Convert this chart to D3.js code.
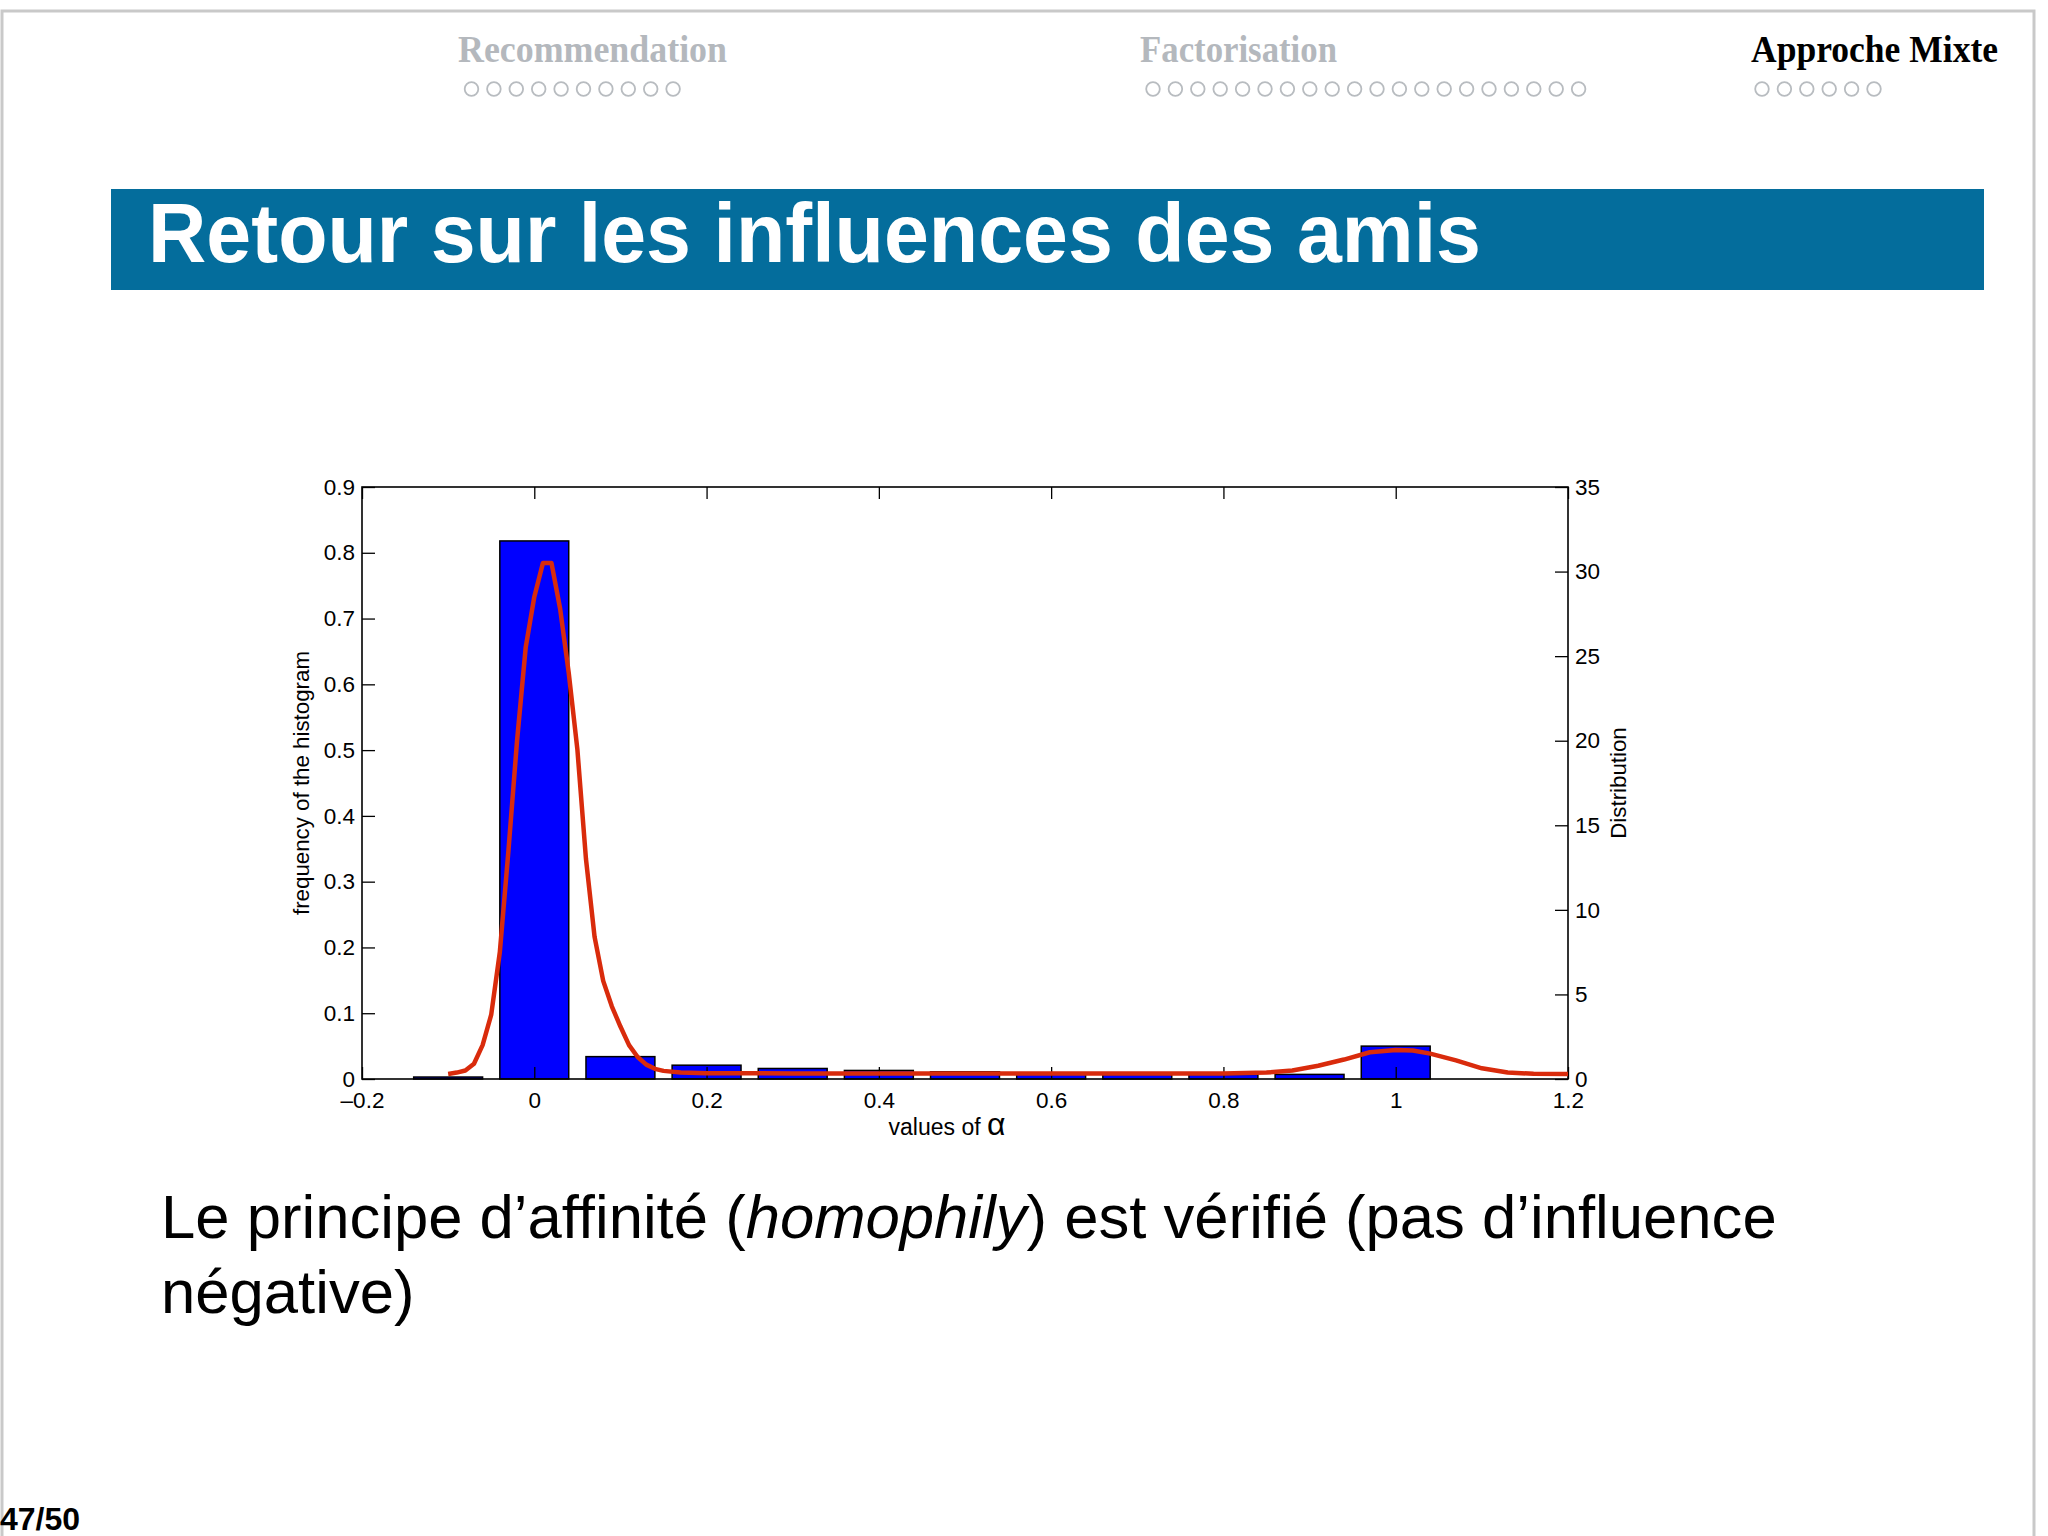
<!DOCTYPE html>
<html>
<head>
<meta charset="utf-8">
<script src="https://cdn.jsdelivr.net/npm/d3@7"></script>
<style>
  html, body { margin: 0; padding: 0; background: #ffffff; }
  svg { display: block; font-family: "Liberation Sans", Arial, Helvetica, sans-serif; }
</style>
</head>
<body>
<svg id="slide" width="2048" height="1536"></svg>
<script>
// ---------- DATA ----------
const sections = ["Recommendation", "Factorisation", "Approche Mixte"];
const sectionFrames = [10, 20, 6];
const activeSection = "Approche Mixte";

const titleText = "Retour sur les influences des amis";

const binCenters = [-0.1, 0.0, 0.1, 0.2, 0.3, 0.4, 0.5, 0.6, 0.7, 0.8, 0.9, 1.0];
const binFrequencies = [0.003, 0.818, 0.034, 0.021, 0.016, 0.013, 0.011, 0.008, 0.007, 0.007, 0.007, 0.050];
const binWidth = 0.08;

const curveX = [-0.10,-0.09,-0.08,-0.07,-0.06,-0.05,-0.04,-0.03,-0.02,-0.01,0.00,0.01,0.02,0.03,0.04,0.05,0.06,0.07,0.08,0.09,0.10,0.11,0.12,0.13,0.14,0.15,0.17,0.20,0.30,0.40,0.50,0.60,0.70,0.80,0.85,0.88,0.91,0.94,0.97,1.00,1.02,1.04,1.07,1.10,1.13,1.16,1.20];
const curveDensity = [0.30,0.38,0.50,0.90,2.0,3.8,7.5,13.5,20.0,25.5,28.5,30.5,30.5,27.8,24.0,19.5,13.0,8.4,5.8,4.3,3.1,2.0,1.3,0.85,0.6,0.48,0.38,0.34,0.33,0.33,0.33,0.33,0.32,0.33,0.38,0.5,0.78,1.15,1.58,1.72,1.68,1.5,1.1,0.63,0.38,0.31,0.30];

const xTicks = [-0.2, 0, 0.2, 0.4, 0.6, 0.8, 1, 1.2];
const xTickLabels = ["\u20130.2", "0", "0.2", "0.4", "0.6", "0.8", "1", "1.2"];
const yLeftTicks = [0, 0.1, 0.2, 0.3, 0.4, 0.5, 0.6, 0.7, 0.8, 0.9];
const yLeftTickLabels = ["0", "0.1", "0.2", "0.3", "0.4", "0.5", "0.6", "0.7", "0.8", "0.9"];
const yRightTicks = [0, 5, 10, 15, 20, 25, 30, 35];
const yRightTickLabels = ["0", "5", "10", "15", "20", "25", "30", "35"];

const xLabel = "values of ";
const xLabelSymbol = "\u03B1";
const yLeftLabel = "frequency of the histogram";
const yRightLabel = "Distribution";

const bodyLine1 = ["Le principe d\u2019affinit\u00e9 (", "homophily", ") est v\u00e9rifi\u00e9 (pas d\u2019influence"];
const bodyLine2 = "n\u00e9gative)";
const pageLabel = "47/50";

// ---------- DRAW ----------
const svg = d3.select("#slide");

// slide frame
svg.append("rect").attr("x", 2).attr("y", 11).attr("width", 2032).attr("height", 1540)
  .attr("fill", "#ffffff").attr("stroke", "#c9c9c9").attr("stroke-width", 3);

// navigation header
const navX = [458, 1140, 1751];
const navW = [269, 197, 247];
const navDotX = [471.5, 1153, 1762];
sections.forEach((s, i) => {
  const active = s === activeSection;
  svg.append("text").text(s)
    .attr("x", navX[i]).attr("y", 62)
    .style("font-family", "'Liberation Serif', 'DejaVu Serif', serif")
    .style("font-size", "37px")
    .style("font-weight", "bold")
    .attr("fill", active ? "#000000" : "#b4b8bd")
    .attr("textLength", navW[i]).attr("lengthAdjust", "spacingAndGlyphs");
  svg.append("g").selectAll("circle").data(d3.range(sectionFrames[i])).join("circle")
    .attr("cx", d => navDotX[i] + d * 22.4).attr("cy", 89).attr("r", 6.8)
    .attr("fill", "none").attr("stroke", "#b8bcc0").attr("stroke-width", 1.8);
});

// title bar
svg.append("rect").attr("x", 111).attr("y", 189).attr("width", 1873).attr("height", 101)
  .attr("fill", "#046d9c");
svg.append("text").text(titleText)
  .attr("x", 148).attr("y", 262)
  .attr("font-size", 84).attr("font-weight", "bold").attr("fill", "#ffffff")
  .attr("textLength", 1333).attr("lengthAdjust", "spacingAndGlyphs");

// chart
const L = 362, R = 1568, T = 487, B = 1079;
const x = d3.scaleLinear().domain([-0.2, 1.2]).range([L, R]);
const yL = d3.scaleLinear().domain([0, 0.9]).range([B, T]);
const yR = d3.scaleLinear().domain([0, 35]).range([B, T]);

const chart = svg.append("g");

// bars
chart.append("g").selectAll("rect").data(binCenters.map((c, i) => ({c, f: binFrequencies[i]}))).join("rect")
  .attr("x", d => x(d.c - binWidth / 2))
  .attr("width", d => x(d.c + binWidth / 2) - x(d.c - binWidth / 2))
  .attr("y", d => yL(d.f))
  .attr("height", d => yL(0) - yL(d.f))
  .attr("fill", "#0000ff").attr("stroke", "#000000").attr("stroke-width", 1.5);

// axes (inward ticks)
const tickFont = g => g.selectAll("text").attr("font-size", 22.5).attr("font-family", "'Liberation Sans', Arial, sans-serif").attr("fill", "#000");
const noDomain = g => g.select(".domain").remove();

chart.append("g").attr("transform", `translate(0,${B})`)
  .call(d3.axisBottom(x).tickValues(xTicks).tickFormat((d, i) => xTickLabels[i]).tickSize(-12).tickSizeOuter(0).tickPadding(13))
  .call(noDomain).call(tickFont)
  .call(g => g.selectAll("line").attr("stroke", "#000").attr("stroke-width", 1.3));
chart.append("g").attr("transform", `translate(0,${T})`)
  .call(d3.axisTop(x).tickValues(xTicks).tickFormat("").tickSize(-12).tickSizeOuter(0))
  .call(noDomain)
  .call(g => g.selectAll("line").attr("stroke", "#000").attr("stroke-width", 1.3));
chart.append("g").attr("transform", `translate(${L},0)`)
  .call(d3.axisLeft(yL).tickValues(yLeftTicks).tickFormat((d, i) => yLeftTickLabels[i]).tickSize(-13).tickSizeOuter(0).tickPadding(7))
  .call(noDomain).call(tickFont)
  .call(g => g.selectAll("line").attr("stroke", "#000").attr("stroke-width", 1.3));
chart.append("g").attr("transform", `translate(${R},0)`)
  .call(d3.axisRight(yR).tickValues(yRightTicks).tickFormat((d, i) => yRightTickLabels[i]).tickSize(-13).tickSizeOuter(0).tickPadding(7))
  .call(noDomain).call(tickFont)
  .call(g => g.selectAll("line").attr("stroke", "#000").attr("stroke-width", 1.3));

// frame
chart.append("rect").attr("x", L).attr("y", T).attr("width", R - L).attr("height", B - T)
  .attr("fill", "none").attr("stroke", "#000").attr("stroke-width", 1.6);

// distribution curve
const line = d3.line().x(d => x(d[0])).y(d => yR(d[1])).curve(d3.curveLinear);
chart.append("path").datum(curveX.map((v, i) => [v, curveDensity[i]]))
  .attr("d", line).attr("fill", "none")
  .attr("stroke", "#d92b0c").attr("stroke-width", 4.5).attr("stroke-linejoin", "round");

// axis labels
const xl = chart.append("text").attr("x", (L + R) / 2 - 18).attr("y", 1135)
  .attr("text-anchor", "middle").attr("font-size", 23);
xl.append("tspan").text(xLabel);
xl.append("tspan").text(xLabelSymbol).attr("font-size", 32);

chart.append("text").text(yLeftLabel)
  .attr("transform", `translate(309,${(T + B) / 2}) rotate(-90)`)
  .attr("text-anchor", "middle").attr("font-size", 22.3);
chart.append("text").text(yRightLabel)
  .attr("transform", `translate(1626,${(T + B) / 2}) rotate(-90)`)
  .attr("text-anchor", "middle").attr("font-size", 22.3);

// body text
const t1 = svg.append("text").attr("x", 161).attr("y", 1238).attr("font-size", 62).attr("fill", "#000");
bodyLine1.forEach((s, i) => t1.append("tspan").text(s).attr("font-style", i === 1 ? "italic" : "normal"));
const w1 = t1.node().getComputedTextLength();
const fs = 62 * 1616 / w1;
t1.attr("font-size", fs);
svg.append("text").text(bodyLine2).attr("x", 161).attr("y", 1313).attr("font-size", fs).attr("fill", "#000");

// page number
svg.append("text").text(pageLabel).attr("x", 0).attr("y", 1530)
  .attr("font-size", 32).attr("font-weight", "bold").attr("fill", "#000");
</script>
</body>
</html>
